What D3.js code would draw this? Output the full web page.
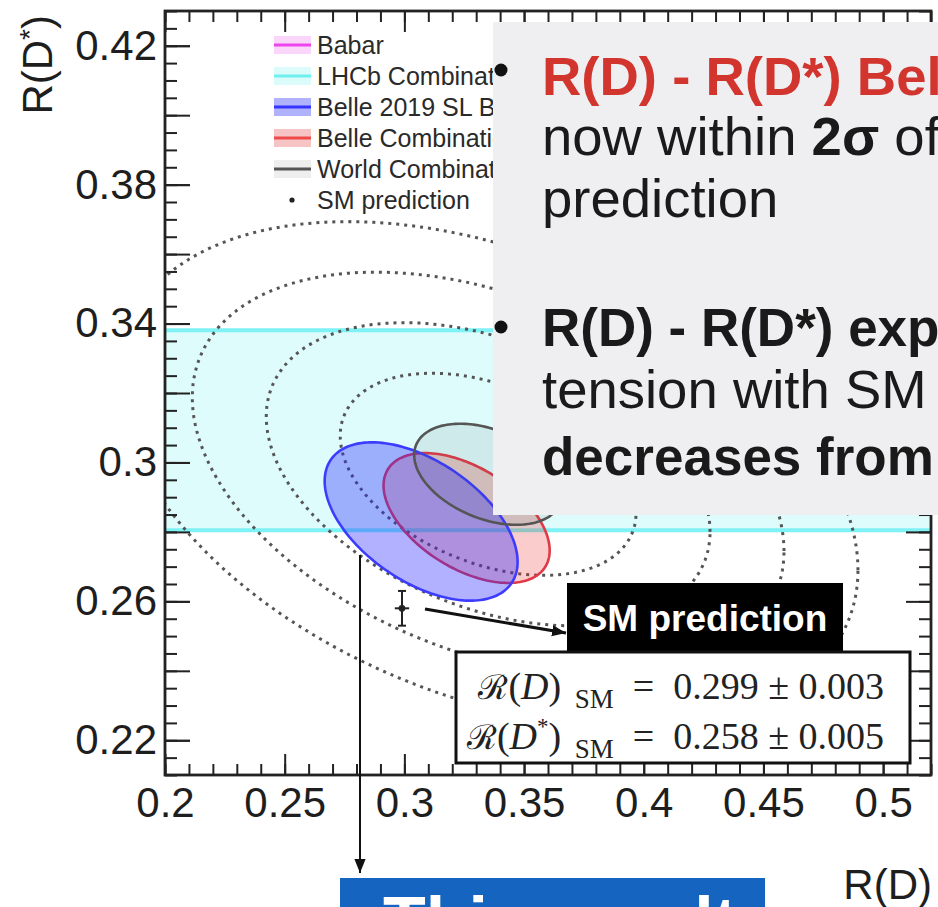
<!DOCTYPE html>
<html>
<head>
<meta charset="utf-8">
<script src="https://cdn.jsdelivr.net/npm/d3@7"></script>
<style>
  body { margin: 0; background: #fff; }
  svg { display: block; }
</style>
</head>
<body>
<div class="vis-holder"></div>
<script>
const width = 938;
const height = 907;
const FONT = "'Liberation Sans', Arial, Helvetica, sans-serif";
const SERIF = "'Liberation Serif', 'DejaVu Serif', 'Times New Roman', serif";

const ellipseNames = ["Babar", "Belle 2019 SL", "Belle Combination", "World Combination"];
const ellipseRD = [0.440, 0.307, 0.326, 0.335];
const ellipseRDerr = [0.0716, 0.0403, 0.0347, 0.0309];
const ellipseRDs = [0.332, 0.283, 0.284, 0.2966];
const ellipseRDsErr = [0.030, 0.0228, 0.0187, 0.01455];
const ellipseCorr = [-0.27, -0.51, -0.50, -0.38];

// n-sigma contours around the world combination
const contourLevels = [2, 3, 4, 5];

// LHCb R(D*) band
const lhcbBand = [0.2805, 0.3381];

// SM prediction
const smValue = [0.299, 0.258];
const smError = [0.003, 0.005];

const xTickLabels = [0.2, 0.25, 0.3, 0.35, 0.4, 0.45, 0.5];
const yTickLabels = [0.22, 0.26, 0.3, 0.34, 0.38, 0.42];
const legendLabels = ["Babar", "LHCb Combination", "Belle 2019 SL Belle", "Belle Combination", "World Combination", "SM prediction"];

// styles
const ellipseFill = ["rgba(240,60,240,0.2)", "rgba(40,40,255,0.36)", "rgba(235,40,40,0.24)", "rgba(70,80,80,0.1)"];
const ellipseStroke = ["#e844e8", "#3c3cff", "#e03a48", "#555"];
const legendLine = ["#ee44ee", "#6ff0f0", "#3535ff", "#ee4a4a", "#555"];
const legendBand = ["#fbd6fb", "#dcfbfb", "#b0b2fb", "#f6c4c4", "#eeeeee"];

const svg = d3.select(".vis-holder").append("svg")
    .attr("width", width)
    .attr("height", height)
    .style("font-family", FONT);

const x = d3.scaleLinear().domain([0.2, 0.52]).range([165, 931]);
const y = d3.scaleLinear().domain([0.21, 0.43]).range([775, 11]);

const defs = svg.append("defs");
defs.append("clipPath").attr("id", "plot-clip")
  .append("rect")
    .attr("x", x(0.2)).attr("y", y(0.43))
    .attr("width", x(0.52) - x(0.2))
    .attr("height", y(0.21) - y(0.43));
defs.append("clipPath").attr("id", "slide-clip")
  .append("rect").attr("x", 0).attr("y", 0).attr("width", width).attr("height", height);
defs.append("marker")
    .attr("id", "arrow")
    .attr("viewBox", "0 0 10 10")
    .attr("refX", 10).attr("refY", 5)
    .attr("markerWidth", 14).attr("markerHeight", 14)
    .attr("markerUnits", "userSpaceOnUse")
    .attr("orient", "auto")
  .append("path").attr("d", "M0,1 L10,5 L0,9 Z").attr("fill", "#111");

function ellipsePoints(i, k) {
  const r = ellipseCorr[i];
  return d3.range(0, 360, 2).map(function(a) {
    const t = a * Math.PI / 180;
    const u = Math.cos(t), v = Math.sin(t);
    return [ellipseRD[i] + k * ellipseRDerr[i] * u,
            ellipseRDs[i] + k * ellipseRDsErr[i] * (r * u + Math.sqrt(1 - r * r) * v)];
  });
}
const closedLine = d3.line()
    .x(d => x(d[0]))
    .y(d => y(d[1]))
    .curve(d3.curveLinearClosed);

const plot = svg.append("g").attr("clip-path", "url(#plot-clip)");

// LHCb band
plot.append("rect")
    .attr("x", x(0.2))
    .attr("width", x(0.52) - x(0.2))
    .attr("y", y(lhcbBand[1]))
    .attr("height", y(lhcbBand[0]) - y(lhcbBand[1]))
    .attr("fill", "#dffcfc");
plot.selectAll("line.lhcb")
    .data(lhcbBand)
    .enter().append("line")
    .attr("class", "lhcb")
    .attr("x1", x(0.2)).attr("x2", x(0.52))
    .attr("y1", d => y(d)).attr("y2", d => y(d))
    .attr("stroke", "#7ef2f4")
    .attr("stroke-width", 4);

// dotted n-sigma contours
plot.selectAll("path.contour")
    .data(contourLevels)
    .enter().append("path")
    .attr("class", "contour")
    .attr("d", k => closedLine(ellipsePoints(3, k)))
    .attr("fill", "none")
    .attr("stroke", "#555")
    .attr("stroke-width", 3)
    .attr("stroke-dasharray", "3 5");

// measurement ellipses
const drawOrder = [0, 2, 1, 3];
plot.selectAll("path.meas")
    .data(drawOrder)
    .enter().append("path")
    .attr("class", "meas")
    .attr("d", i => closedLine(ellipsePoints(i, 1)))
    .attr("fill", i => ellipseFill[i])
    .attr("stroke", i => ellipseStroke[i])
    .attr("stroke-width", 2.6);

// SM prediction marker
const sm = plot.append("g").attr("stroke", "#222").attr("stroke-width", 2);
sm.append("line")
    .attr("x1", x(smValue[0])).attr("x2", x(smValue[0]))
    .attr("y1", y(smValue[1] - smError[1])).attr("y2", y(smValue[1] + smError[1]));
sm.append("line")
    .attr("x1", x(smValue[0] - smError[0])).attr("x2", x(smValue[0] + smError[0]))
    .attr("y1", y(smValue[1])).attr("y2", y(smValue[1]));
[smValue[1] - smError[1], smValue[1] + smError[1]].forEach(function(v) {
  sm.append("line")
      .attr("x1", x(smValue[0]) - 4).attr("x2", x(smValue[0]) + 4)
      .attr("y1", y(v)).attr("y2", y(v));
});
sm.append("circle").attr("cx", x(smValue[0])).attr("cy", y(smValue[1])).attr("r", 2.4).attr("fill", "#222");

// axes (ROOT style ticks inside the frame)
const xMinor = d3.range(20, 53).map(i => i / 100);
const yMinor = d3.range(42, 87).map(i => i / 200);
const yMedium = d3.range(11, 22).map(i => i / 50);

function styleAxis(g) {
  g.select(".domain").remove();
  g.selectAll("line").attr("stroke", "#222").attr("stroke-width", 2);
  g.attr("font-family", FONT).attr("font-size", 42);
  g.selectAll("text").attr("fill", "#1e1e1e");
}

svg.append("g").attr("transform", `translate(0,${y(0.21)})`)
    .call(d3.axisBottom(x).tickValues(xMinor).tickSize(-11).tickFormat(""))
    .call(styleAxis);
svg.append("g").attr("transform", `translate(0,${y(0.21)})`)
    .call(d3.axisBottom(x).tickValues(xTickLabels).tickSize(-21).tickPadding(12).tickFormat(d => String(d)))
    .call(styleAxis);
svg.append("g").attr("transform", `translate(0,${y(0.43)})`)
    .call(d3.axisTop(x).tickValues(xMinor).tickSize(-11).tickFormat(""))
    .call(styleAxis);
svg.append("g").attr("transform", `translate(0,${y(0.43)})`)
    .call(d3.axisTop(x).tickValues(xTickLabels).tickSize(-21).tickFormat(""))
    .call(styleAxis);

svg.append("g").attr("transform", `translate(${x(0.2)},0)`)
    .call(d3.axisLeft(y).tickValues(yMinor).tickSize(-12).tickFormat(""))
    .call(styleAxis);
svg.append("g").attr("transform", `translate(${x(0.2)},0)`)
    .call(d3.axisLeft(y).tickValues(yMedium).tickSize(-25).tickFormat(""))
    .call(styleAxis);
svg.append("g").attr("transform", `translate(${x(0.2)},0)`)
    .call(d3.axisLeft(y).tickValues(yTickLabels).tickSize(-25).tickPadding(8).tickFormat(d => String(d)))
    .call(styleAxis);
svg.append("g").attr("transform", `translate(${x(0.52)},0)`)
    .call(d3.axisRight(y).tickValues(yMinor).tickSize(-12).tickFormat(""))
    .call(styleAxis);
svg.append("g").attr("transform", `translate(${x(0.52)},0)`)
    .call(d3.axisRight(y).tickValues(yMedium).tickSize(-25).tickFormat(""))
    .call(styleAxis);

// frame
svg.append("rect")
    .attr("x", x(0.2)).attr("y", y(0.43))
    .attr("width", x(0.52) - x(0.2))
    .attr("height", y(0.21) - y(0.43))
    .attr("fill", "none")
    .attr("stroke", "#222")
    .attr("stroke-width", 2.8);

// axis titles
const yTitle = svg.append("text")
    .attr("transform", "translate(52,15) rotate(-90)")
    .attr("text-anchor", "end")
    .attr("font-size", 42)
    .attr("fill", "#1e1e1e");
yTitle.append("tspan").text("R(D");
yTitle.append("tspan").attr("font-size", 28).attr("dy", -13).text("*");
yTitle.append("tspan").attr("dy", 13).text(")");

svg.append("text")
    .attr("x", 932).attr("y", 899)
    .attr("text-anchor", "end")
    .attr("font-size", 42)
    .attr("fill", "#1e1e1e")
    .text("R(D)");

// legend
const legend = svg.append("g").attr("transform", "translate(274,45)");
const rows = legend.selectAll("g.row")
    .data(legendLabels)
    .enter().append("g")
    .attr("class", "row")
    .attr("transform", (d, i) => `translate(0,${i * 31})`);
rows.filter((d, i) => i < 5).append("rect")
    .attr("x", 0).attr("y", -9).attr("width", 37).attr("height", 18)
    .attr("fill", (d, i) => legendBand[i]);
rows.filter((d, i) => i < 5).append("line")
    .attr("x1", 0).attr("x2", 37)
    .attr("stroke", (d, i) => legendLine[i])
    .attr("stroke-width", 3);
rows.filter((d, i) => i === 5).append("circle")
    .attr("cx", 18).attr("r", 2.6).attr("fill", "#222");
rows.append("text")
    .attr("x", 43).attr("y", 9)
    .attr("font-size", 25)
    .attr("fill", "#2a2a2a")
    .text(d => d);

// annotation: arrow down to the "This result" box
svg.append("line")
    .attr("x1", 360).attr("y1", 555)
    .attr("x2", 360).attr("y2", 873)
    .attr("stroke", "#111").attr("stroke-width", 2)
    .attr("marker-end", "url(#arrow)");

// annotation: arrow from the SM point to its label
svg.append("line")
    .attr("x1", 425).attr("y1", 609)
    .attr("x2", 566).attr("y2", 633)
    .attr("stroke", "#111").attr("stroke-width", 3)
    .attr("marker-end", "url(#arrow)");

svg.append("rect")
    .attr("x", 567).attr("y", 583).attr("width", 276).attr("height", 69)
    .attr("fill", "#000");
svg.append("text")
    .attr("x", 705).attr("y", 631)
    .attr("text-anchor", "middle")
    .attr("font-size", 37)
    .attr("font-weight", "bold")
    .attr("fill", "#fff")
    .text("SM prediction");

// formula box
svg.append("rect")
    .attr("x", 456).attr("y", 652).attr("width", 454).attr("height", 111)
    .attr("fill", "#fff")
    .attr("stroke", "#111").attr("stroke-width", 3);
const formulas = [
  { star: false, value: "0.299 \u00b1 0.003", base: 699 },
  { star: true, value: "0.258 \u00b1 0.005", base: 749 }
];
formulas.forEach(function(f) {
  const t = svg.append("text")
      .attr("x", 884).attr("y", f.base)
      .attr("text-anchor", "end")
      .attr("font-family", SERIF)
      .attr("font-size", 38)
      .attr("fill", "#222");
  t.append("tspan").attr("font-family", "'DejaVu Serif', serif").attr("font-size", 34).text("\u211b");
  t.append("tspan").text("(");
  t.append("tspan").attr("font-style", "italic").text("D");
  if (f.star) {
    t.append("tspan").attr("font-size", 23).attr("dy", -15).text("*");
    t.append("tspan").attr("dy", 15).text(")");
  } else {
    t.append("tspan").text(")");
  }
  t.append("tspan").attr("font-size", 27).attr("dy", 9).text("\u2002SM");
  t.append("tspan").attr("dy", -9).text("\u2002=\u2002" + f.value);
});

// slide overlay box with bullet text
const slide = svg.append("g").attr("clip-path", "url(#slide-clip)");
slide.append("rect")
    .attr("x", 493).attr("y", 22).attr("width", 460).attr("height", 493)
    .attr("fill", "#efeff1");
[70, 327].forEach(function(by) {
  slide.append("circle").attr("cx", 501).attr("cy", by).attr("r", 6.5).attr("fill", "#111");
});
const slideLines = [
  { y: 95, size: 54.5, parts: [{ t: "R(D) - R(D*) Belle result", b: true, c: "#d2352d" }] },
  { y: 155, size: 54.5, parts: [{ t: "now within " }, { t: "2\u03c3", b: true }, { t: " of SM" }] },
  { y: 217, size: 54.5, parts: [{ t: "prediction" }] },
  { y: 346, size: 53, parts: [{ t: "R(D) - R(D*) experimental", b: true }] },
  { y: 408, size: 54.5, parts: [{ t: "tension with SM" }] },
  { y: 475, size: 53, parts: [{ t: "decreases from 3.8\u03c3", b: true }] }
];
slideLines.forEach(function(l) {
  const t = slide.append("text")
      .attr("x", 542).attr("y", l.y)
      .attr("font-size", l.size)
      .attr("fill", "#1a1a1a");
  l.parts.forEach(function(p) {
    t.append("tspan")
        .attr("font-weight", p.b ? "bold" : "normal")
        .attr("fill", p.c || "#1a1a1a")
        .text(p.t);
  });
});

// "This result" box at the bottom
slide.append("rect")
    .attr("x", 340).attr("y", 878).attr("width", 425).attr("height", 60)
    .attr("fill", "#1565c0");
slide.append("text")
    .attr("x", 383).attr("y", 946)
    .attr("font-size", 70)
    .attr("font-weight", "bold")
    .attr("fill", "#fff")
    .text("This result");
</script>
</body>
</html>
